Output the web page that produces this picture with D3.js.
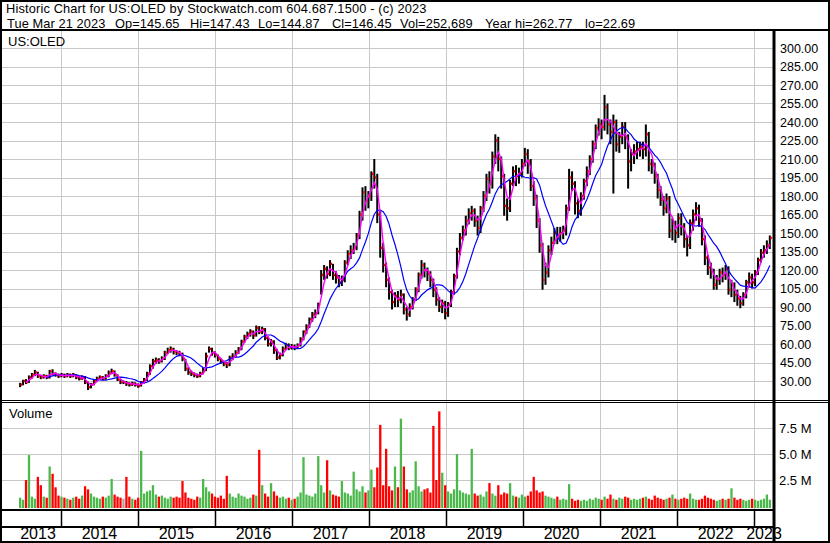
<!DOCTYPE html>
<html>
<head>
<meta charset="utf-8">
<script src="https://cdn.jsdelivr.net/npm/d3@7"></script>
<style>
  body { margin: 0; background: #fff; }
  text { font-family: Arial, "Liberation Sans", sans-serif; fill: #000; }
</style>
</head>
<body>
<script>
// header text
var title1 = "Historic Chart for US:OLED by Stockwatch.com 604.687.1500 - (c) 2023";
var title2 = ["Tue Mar 21 2023", "Op=145.65", "Hi=147.43", "Lo=144.87", "Cl=146.45", "Vol=252,689", "Year hi=262.77", "lo=22.69"];
var title2X = [7, 115, 190, 258, 332, 400, 485, 585];
var symbol = "US:OLED";

// one bar every two weeks, first one ends 2013-06-21
var firstDate = new Date(2013, 5, 21);
var stepDays = 14;

var closes = [
  27,30,29,33,35,37,34,33,34,33, 38,36,35,34,35,34,35,34,35,33,
  32,33,29,25,27,30,32,33,32,34, 37,38,35,31,29,29,28,27,28,27,
  26,29,31,36,42,46,47,46,48,53, 55,56,54,53,52,48,40,37,36,35,
  34,36,38,50,56,53,51,48,46,44, 43,49,50,53,56,62,66,68,70,67,
  73,70,72,65,60,62,55,49,51,56, 59,57,58,57,59,64,70,74,80,84,
  85,92,116,121,117,125,116,114,110,112, 126,133,136,138,148,165,183,176,180,198,
  195,165,138,124,112,102,94,99,96,100, 88,84,90,96,104,116,124,120,117,112,
  104,96,90,93,85,92,102,115,135,146, 152,160,166,168,160,154,170,180,194,190,
  212,225,210,196,172,170,190,200,196,198, 206,214,208,188,178,160,140,112,118,136,
  142,150,148,150,152,170,195,190,174,168, 180,192,200,210,222,235,238,236,252,238,
  232,240,222,228,236,228,208,214,216,218, 220,218,230,206,205,196,185,177,170,178,
  152,158,150,162,155,145,140,158,165,170, 160,145,130,122,119,108,112,118,116,121,
  104,108,100,97,93,100,110,114,110,118, 128,134,136,140,146
];

var highs = [
  28.5,31,31.5,34.5,36.5,39,37.5,35,35.5,35, 39,39.5,37,36,36.5,36,36.5,36,36.5,35.5,
  34,34.5,34,29.5,28.5,31.5,33.5,34.5,34,35.5, 38.5,40,38.5,35.5,31.5,30.5,30,29,29.5,29,
  28,30,32.5,37.5,43.5,48,49,48.5,50,54.5, 57,58,57,55,54.5,53,48,41,38.5,37,
  36,37.5,40.5,53,58,57,54,51.5,48.5,46.5, 45.5,50.5,52.5,55,57.5,63.5,67.5,70,72,71,
  75,74.5,74,73,66,64,63,56,53,58, 61,60.5,60,59.5,60.5,65.5,71,76,81.5,86,
  88,93.5,120,124,123,128,125,119,116,115.5, 128,136,140,142,150,168,187,188,184,200,
  210,198,168,142,126,114,104,102,103,104, 101,90,93,98,106,118,128,126,122,119,
  113,106,98,96,95,94,104,117,138,150, 156,164,170,172,170,164,172,184,198,200,
  216,230,228,212,198,178,193,204,205,203, 210,219,218,210,192,181,162,142,126,140,
  147,154,155,155,156,173,202,200,192,178, 183,194,204,213,225,238,243,242,262,255,
  242,246,242,232,240,240,230,218,222,224, 224,224,238,232,210,207,198,188,180,182,
  180,162,160,166,166,158,148,161,169,175, 173,162,148,132,126,121,116,121,122,124,
  123,112,110,104,99,102,112,118,117,120, 130,137,140,144,148
];

var lows = [
  25,26.5,27.5,28.5,32,34,32.5,31.5,32,31.5, 32,34.5,33.5,32.5,33,32.5,33,32.5,33,31.5,
  30.5,31,27.5,22.7,24,26.5,29.5,31,30.5,31, 33,35.5,33.5,30,27.5,27.5,26,25.5,26,25.5,
  24.5,25.5,28,30,35,40,44,44,45,47, 52,53,51.5,51,50,46,38,35,34,33,
  32.5,33,35.5,38,53,50.5,49,46,44,42, 40.5,42,47,49,52,55,61,64,66,64,
  66,68,68,63,58,58,52,47,47.5,50, 55,55,55.5,55,56,58,63,68,73,78,
  81,84,100,112,113,115,112,109,106,107, 110,124,129,133,136,145,160,168,170,176,
  186,158,130,118,106,96,88,90,90,93, 84,79,82,88,95,102,113,114,111,106,
  98,91,86,85,80,82,90,100,113,132, 144,148,157,160,155,148,150,167,176,182,
  186,206,200,186,164,160,167,188,188,190, 195,204,198,184,172,154,134,104,108,114,
  132,141,141,143,145,148,168,184,165,162, 164,177,188,197,207,218,229,226,233,230,
  222,182,216,215,222,218,186,200,206,210, 212,210,212,200,198,190,178,172,164,166,
  146,144,142,146,148,138,131,137,152,160, 155,140,124,116,113,104,104,108,110,112,
  100,98,94,91,89,91,97,106,105,107, 116,126,130,133,137
];

// volume in millions (largest day inside each two-week slot)
var vols = [
  0.8,0.6,2.5,4.9,0.9,0.7,2.8,2.0,0.9,0.8, 3.8,3.1,1.8,1.0,0.9,0.8,0.7,0.6,0.8,0.9,
  0.7,1.0,1.9,1.6,1.2,0.9,0.8,0.7,0.9,0.8, 1.0,2.6,1.1,0.9,0.8,0.7,2.8,0.9,0.7,0.6,
  0.8,5.3,1.2,1.4,1.5,2.0,1.1,0.9,1.0,0.8, 0.7,0.9,0.8,0.9,0.8,2.4,1.3,0.8,0.7,0.6,
  0.9,0.8,2.6,1.8,1.4,1.2,0.9,0.8,1.0,0.7, 2.9,1.2,0.9,0.8,1.2,1.0,0.9,0.7,0.8,1.1,
  1.0,5.4,2.0,1.2,0.9,2.2,1.4,1.0,0.8,0.9, 0.7,0.8,0.6,0.7,0.9,1.3,4.7,1.1,1.0,0.9,
  1.2,4.8,2.0,1.3,4.4,1.5,1.1,1.0,0.9,2.4, 1.3,1.2,1.0,3.3,1.6,1.4,1.9,1.3,1.5,3.5,
  1.8,3.7,7.8,2.0,5.5,1.9,1.5,3.8,1.8,8.4, 3.8,1.6,1.3,1.5,4.3,1.9,1.4,1.6,1.7,1.3,
  7.7,2.5,9.1,3.2,2.0,1.4,1.2,1.6,5.0,1.5, 1.3,1.2,1.1,5.5,1.2,1.0,1.1,0.9,1.4,2.2,
  1.2,1.0,2.0,1.1,1.3,1.2,2.2,1.0,0.9,0.8, 1.1,0.9,1.0,1.4,2.8,1.5,1.3,1.4,1.0,0.9,
  0.8,0.7,0.9,0.6,0.7,0.6,2.1,0.7,0.5,0.6, 0.5,0.6,0.5,0.7,0.6,0.8,0.7,0.6,0.9,0.7,
  1.1,0.7,0.6,0.8,0.7,0.9,0.8,0.6,0.7,0.6, 0.7,0.8,0.9,0.7,0.6,1.0,0.8,0.7,0.6,0.7,
  0.8,1.1,0.7,0.6,0.7,0.8,0.7,1.2,0.7,0.6, 0.6,0.7,1.0,0.8,0.7,0.6,0.5,0.6,0.7,0.6,
  0.7,1.7,0.8,0.6,0.7,0.6,0.5,0.6,0.7,0.6, 0.5,0.6,0.7,1.1,0.6
];

var years = [2013,2014,2015,2016,2017,2018,2019,2020,2021,2022,2023];
var priceTicks = [30,45,60,75,90,105,120,135,150,165,180,195,210,225,240,255,270,285,300];
var volTicks = [2.5,5.0,7.5];

var fastLen = 3;   // short average
var slowLen = 10;  // ~100 days

var width = 830, height = 543;
var plotL = 2, plotR = 773;
var priceTop = 31, priceBot = 400;
var volTop = 403, volBot = 509;

var svg = d3.select("body").append("svg")
    .attr("width", width)
    .attr("height", height);

var dates = closes.map(function(c, i){ return d3.timeDay.offset(firstDate, i * stepDays); });

var x = d3.scaleTime()
    .domain([new Date(2014, 0, 1), new Date(2023, 0, 1)])
    .range([61, 754]);

var y = d3.scaleLinear().domain([30, 300]).range([381, 48]);
var yv = d3.scaleLinear().domain([0, 10]).range([506, 402]);

var grid = "#c8c8c8";

// clip paths
svg.append("clipPath").attr("id", "pclip").append("rect")
    .attr("x", plotL).attr("y", priceTop).attr("width", plotR - plotL).attr("height", priceBot - priceTop);
svg.append("clipPath").attr("id", "vclip").append("rect")
    .attr("x", plotL).attr("y", volTop).attr("width", plotR - plotL).attr("height", volBot - volTop);

// gridlines
svg.append("g").selectAll("line")
    .data(priceTicks).enter().append("line")
    .attr("x1", plotL).attr("x2", plotR)
    .attr("y1", function(d){ return Math.round(y(d)) + 0.5; })
    .attr("y2", function(d){ return Math.round(y(d)) + 0.5; })
    .attr("stroke", grid);

svg.append("g").selectAll("line")
    .data(volTicks).enter().append("line")
    .attr("x1", plotL).attr("x2", plotR)
    .attr("y1", function(d){ return Math.round(yv(d)) + 0.5; })
    .attr("y2", function(d){ return Math.round(yv(d)) + 0.5; })
    .attr("stroke", grid);

var yearLines = years.slice(1);
svg.append("g").selectAll("line")
    .data(yearLines).enter().append("line")
    .attr("x1", function(d){ return Math.round(x(new Date(d, 0, 1))) + 0.5; })
    .attr("x2", function(d){ return Math.round(x(new Date(d, 0, 1))) + 0.5; })
    .attr("y1", priceTop).attr("y2", volBot)
    .attr("stroke", grid);

// price bars
var bars = svg.append("g").attr("clip-path", "url(#pclip)");
bars.selectAll("rect.bar")
    .data(closes).enter().append("rect")
    .attr("class", "bar")
    .attr("x", function(d, i){ return x(dates[i]) - 1; })
    .attr("y", function(d, i){ return y(highs[i]); })
    .attr("width", 2)
    .attr("height", function(d, i){ return Math.max(1, y(lows[i]) - y(highs[i])); })
    .attr("fill", "#000");

bars.selectAll("rect.cl")
    .data(closes).enter().append("rect")
    .attr("class", "cl")
    .attr("x", function(d, i){ return x(dates[i]) + 0.5; })
    .attr("y", function(d){ return y(d) - 1.2; })
    .attr("width", 1.6)
    .attr("height", 2.4)
    .attr("fill", "#ff0000");

// moving averages
function sma(arr, n){
  return arr.map(function(d, i){
    if(i < n - 1) return null;
    return d3.mean(arr.slice(i - n + 1, i + 1));
  });
}
var fast = sma(closes, fastLen);
var slow = sma(closes, slowLen);

var line = d3.line()
    .defined(function(d){ return d != null; })
    .x(function(d, i){ return x(dates[i]); })
    .y(function(d){ return y(d); });

bars.append("path").datum(slow)
    .attr("d", line).attr("fill", "none")
    .attr("stroke", "#0000ff").attr("stroke-width", 1.2);
bars.append("path").datum(fast)
    .attr("d", line).attr("fill", "none")
    .attr("stroke", "#ff00ff").attr("stroke-width", 1.4);

// volume bars
svg.append("g").attr("clip-path", "url(#vclip)")
    .selectAll("rect")
    .data(vols).enter().append("rect")
    .attr("x", function(d, i){ return x(dates[i]) - 1.1; })
    .attr("y", function(d){ return yv(d); })
    .attr("width", 2.3)
    .attr("height", function(d){ return 508 - yv(d); })
    .attr("fill", function(d, i){
      if(i == 0) return "#4cb84c";
      if(closes[i] > closes[i-1]) return "#4cb84c";
      if(closes[i] < closes[i-1]) return "#ff0000";
      return "#a8a8a8";
    });

// axis labels
svg.append("g").selectAll("text")
    .data(priceTicks).enter().append("text")
    .attr("x", 780)
    .attr("y", function(d){ return y(d) + 4.5; })
    .style("font-size", "12.5px")
    .text(function(d){ return d3.format(".2f")(d); });

svg.append("g").selectAll("text")
    .data(volTicks).enter().append("text")
    .attr("x", 779)
    .attr("y", function(d){ return yv(d) + 5; })
    .style("font-size", "13px")
    .text(function(d){ return d3.format(".1f")(d) + " M"; });

svg.append("text").attr("x", 8).attr("y", 46).style("font-size", "13px").text(symbol);
svg.append("text").attr("x", 9).attr("y", 418).style("font-size", "13px").text("Volume");

// year labels
var axisStart = 15;
svg.append("g").selectAll("text")
    .data(years).enter().append("text")
    .attr("x", function(d){
      var a = Math.max(axisStart, x(new Date(d, 0, 1)));
      var b = Math.min(plotR + 1, x(new Date(d + 1, 0, 1)));
      return (a + b) / 2;
    })
    .attr("y", 539)
    .attr("text-anchor", "middle")
    .style("font-size", "16px")
    .text(function(d){ return d; });

// year separators in the row under the volume panel
svg.append("g").selectAll("line")
    .data(yearLines).enter().append("line")
    .attr("x1", function(d){ return Math.round(x(new Date(d, 0, 1))) + 0.5; })
    .attr("x2", function(d){ return Math.round(x(new Date(d, 0, 1))) + 0.5; })
    .attr("y1", volBot).attr("y2", 527)
    .attr("stroke", "#000").attr("stroke-width", 1.5);

// frame lines
var frame = svg.append("g").attr("stroke", "#000").attr("fill", "none");
frame.append("line").attr("x1", 0).attr("x2", width).attr("y1", 30).attr("y2", 30).attr("stroke-width", 2);
frame.append("line").attr("x1", 0).attr("x2", width).attr("y1", 400.5).attr("y2", 400.5).attr("stroke-width", 1);
frame.append("line").attr("x1", 0).attr("x2", width).attr("y1", 402.5).attr("y2", 402.5).attr("stroke-width", 1);
frame.append("line").attr("x1", 0).attr("x2", plotR).attr("y1", 510).attr("y2", 510).attr("stroke-width", 2);
frame.append("line").attr("x1", 0).attr("x2", plotR).attr("y1", 527).attr("y2", 527).attr("stroke-width", 2);
frame.append("line").attr("x1", 774).attr("x2", 774).attr("y1", 30).attr("y2", height).attr("stroke-width", 3);
frame.append("rect").attr("x", 1).attr("y", 1).attr("width", width - 2).attr("height", height - 2).attr("stroke-width", 2);

// header
svg.append("text").attr("x", 6).attr("y", 13)
    .style("font-size", "12.8px").style("letter-spacing", "0.16px").text(title1);
svg.append("g").selectAll("text")
    .data(title2).enter().append("text")
    .attr("x", function(d, i){ return title2X[i]; })
    .attr("y", 27.5)
    .style("font-size", "12.8px").style("letter-spacing", "0.1px")
    .text(function(d){ return d; });
</script>
</body>
</html>
